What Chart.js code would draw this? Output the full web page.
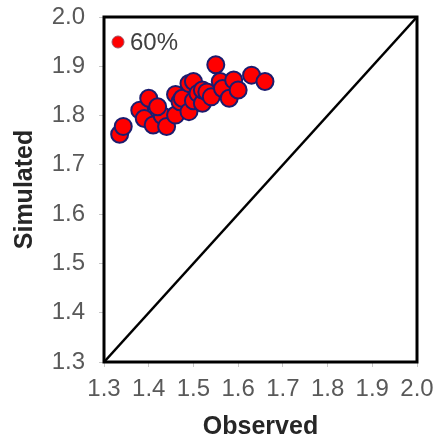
<!DOCTYPE html>
<html>
<head>
<meta charset="utf-8">
<script src="https://cdn.jsdelivr.net/npm/chart.js@4.4.1/dist/chart.umd.min.js"></script>
<style>
  html, body { margin: 0; padding: 0; background: #fff; }
</style>
</head>
<body>
<canvas id="c" width="434" height="442"></canvas>
<script>
// observed vs simulated pairs
const observed  = [1.335, 1.343, 1.38, 1.39, 1.41, 1.43, 1.40, 1.42, 1.44, 1.46, 1.46, 1.47, 1.475, 1.49, 1.49, 1.50, 1.50, 1.51, 1.52, 1.52, 1.53, 1.54, 1.55, 1.56, 1.565, 1.58, 1.59, 1.60, 1.63, 1.66];
const simulated = [1.762, 1.778, 1.811, 1.794, 1.781, 1.800, 1.835, 1.818, 1.778, 1.843, 1.801, 1.828, 1.835, 1.865, 1.808, 1.869, 1.830, 1.845, 1.825, 1.852, 1.848, 1.838, 1.903, 1.869, 1.855, 1.835, 1.872, 1.852, 1.882, 1.869];
const seriesLabel = "60%";
// 1:1 reference line
const oneToOne = [1.3, 2.0];
const tickValues = [1.3, 1.4, 1.5, 1.6, 1.7, 1.8, 1.9, 2.0];

const FONT = "'Liberation Sans', Arial, sans-serif";

// black box round the plot area
const framePlugin = {
  id: "frame",
  afterDatasetsDraw(chart) {
    const { ctx, chartArea: a } = chart;
    ctx.save();
    ctx.strokeStyle = "#000";
    ctx.lineWidth = 3;
    ctx.strokeRect(a.left, a.top, a.right - a.left, a.bottom - a.top);
    ctx.restore();
  },
};

// single-entry key in the top left corner of the plot
const keyPlugin = {
  id: "key",
  afterDraw(chart) {
    const { ctx, chartArea: a } = chart;
    const ds = chart.data.datasets[0];
    const cx = a.left + 14, cy = a.top + 25;
    ctx.save();
    ctx.beginPath();
    ctx.arc(cx, cy, 6, 0, Math.PI * 2);
    ctx.fillStyle = ds.backgroundColor;
    ctx.fill();
    ctx.lineWidth = 1;
    ctx.strokeStyle = "#a05060";
    ctx.stroke();
    ctx.font = "24px " + FONT;
    ctx.fillStyle = "#404040";
    ctx.textBaseline = "middle";
    ctx.fillText(ds.label, cx + 12, cy + 1);
    ctx.restore();
  },
};

function axis(title, fit, tickPad, titlePad) {
  return {
    type: "linear",
    min: tickValues[0],
    max: tickValues[tickValues.length - 1],
    afterBuildTicks: (s) => { s.ticks = tickValues.map((v) => ({ value: v })); },
    afterFit: (s) => {
      fit(s);
      // let the end labels hang over the layout padding
      s.paddingTop = s.paddingBottom = s.paddingLeft = s.paddingRight = 0;
    },
    ticks: {
      callback: (v) => Number(v).toFixed(1),
      font: { family: FONT, size: 24 },
      color: "#595959",
      padding: tickPad,
      maxRotation: 0,
      autoSkip: false,
    },
    grid: { drawOnChartArea: false, drawTicks: true, tickLength: 5, color: "#c8c8c8" },
    border: { display: false },
    title: {
      display: true,
      text: title,
      font: { family: FONT, size: 25, weight: "bold" },
      color: "#262626",
      padding: titlePad,
    },
  };
}

new Chart(document.getElementById("c").getContext("2d"), {
  type: "scatter",
  data: {
    datasets: [
      {
        label: seriesLabel,
        data: observed.map((x, i) => ({ x, y: simulated[i] })),
        backgroundColor: "#ff0000",
        borderColor: "#1c1c6e",
        borderWidth: 2,
        pointRadius: 8.5,
        pointStyle: "circle",
      },
      {
        label: "1:1",
        type: "line",
        data: oneToOne.map((v) => ({ x: v, y: v })),
        borderColor: "#000",
        borderWidth: 2.5,
        pointRadius: 0,
        fill: false,
      },
    ],
  },
  options: {
    responsive: false,
    animation: false,
    devicePixelRatio: 1,
    layout: { padding: { top: 17, right: 17, left: 0, bottom: 0 } },
    scales: {
      x: axis("Observed", (s) => { s.height = 80; }, 8, { top: 0, bottom: 0 }),
      y: axis("Simulated", (s) => { s.width = 104; }, 14, { top: 10, bottom: 0 }),
    },
    plugins: {
      legend: { display: false },
      tooltip: { enabled: false },
    },
  },
  plugins: [framePlugin, keyPlugin],
});
</script>
</body>
</html>
